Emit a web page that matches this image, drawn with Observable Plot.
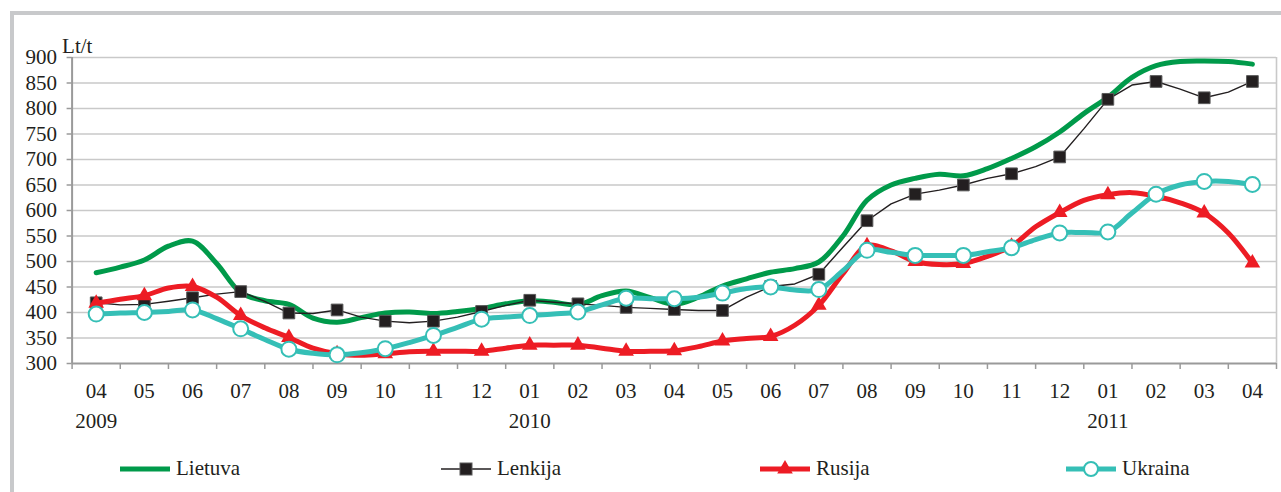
<!DOCTYPE html>
<html>
<head>
<meta charset="utf-8">
<script src="https://cdn.jsdelivr.net/npm/d3@7"></script>
<script src="https://cdn.jsdelivr.net/npm/@observablehq/plot@0.6"></script>
<style>
  html, body { margin: 0; padding: 0; background: #fff; }
  #page { position: relative; width: 1281px; height: 492px; overflow: hidden; background: #fff; font-family: "Liberation Serif", serif; }
  #frame { position: absolute; left: 10px; top: 11px; width: 1400px; height: 700px; border: 4px solid #c8c9cb; box-sizing: border-box; pointer-events: none; }
  #chart { position: absolute; left: 0; top: 0; }
  #chart svg text { font-family: "Liberation Serif", serif; font-variant: normal; }
  #legend { position: absolute; left: 0; top: 445px; width: 1281px; height: 47px; }
  .item { position: absolute; top: 0; height: 47px; display: flex; align-items: center; font-size: 21px; color: #231f20; }
  .item svg { margin-right: 6px; }
</style>
</head>
<body>
<div id="page">
  <div id="chart"></div>
  <div id="frame"></div>
  <div id="legend"></div>
</div>
<script>
// Month labels (April 2009 – April 2011)
const monthLabels = ["04","05","06","07","08","09","10","11","12","01","02","03","04","05","06","07","08","09","10","11","12","01","02","03","04"];
const yearLabels = [{i: 0, label: "2009"}, {i: 9, label: "2010"}, {i: 21, label: "2011"}];
const seriesNames = ["Lietuva", "Lenkija", "Rusija", "Ukraina"];

// Half-monthly readings, Lt/t (index k -> month position k/2)
const lietuva = [478,489,503,530,540,496,439,423,416,389,381,390,399,401,398,402,408,417,423,420,415,433,442,429,416,430,452,466,479,486,499,550,620,650,663,671,668,682,702,725,754,790,822,861,884,892,893,892,887];
const lenkija = [419,415,416,422,429,436,441,422,399,398,405,391,383,380,383,391,402,414,424,420,417,414,410,408,406,404,404,430,451,456,475,528,580,613,632,640,650,663,672,686,705,760,818,846,853,838,821,832,853];
const rusija  = [418,426,433,448,451,430,394,370,351,330,319,316,319,323,324,324,324,330,336,336,336,330,324,324,325,333,344,349,353,375,414,476,531,521,500,494,496,510,530,568,596,620,631,635,628,615,595,556,497];
const ukraina = [397,399,400,402,405,388,368,347,328,320,317,321,329,341,355,371,387,391,394,397,401,415,428,427,427,430,438,447,450,444,445,482,522,518,512,512,512,519,527,543,556,557,558,595,632,650,657,657,651];

const colors = {Lietuva: "#009a4a", Lenkija: "#231f20", Rusija: "#ed1c24", Ukraina: "#35bfb6"};

const toRows = (arr) => arr.map((v, k) => ({x: k / 2, v}));
const rows = {
  Lietuva: toRows(lietuva),
  Lenkija: toRows(lenkija),
  Rusija: toRows(rusija),
  Ukraina: toRows(ukraina)
};
const monthly = (name) => rows[name].filter((d, k) => k % 2 === 0);

const font = "Liberation Serif";
const chart = Plot.plot({
  width: 1281,
  height: 445,
  marginLeft: 71.6,
  marginRight: 5,
  marginTop: 57,
  marginBottom: 82,
  style: {fontFamily: "Liberation Serif, serif", fontSize: "21px", background: "transparent", color: "#231f20", overflow: "visible"},
  x: {domain: [-0.5, 24.5], axis: null},
  y: {domain: [300, 900], axis: null},
  marks: [
    Plot.gridY({ticks: d3.range(350, 901, 50), stroke: "#c9c9c9", strokeOpacity: 1, strokeWidth: 1.6}),
    Plot.ruleX([24.5], {stroke: "#c9c9c9", strokeWidth: 1.6}),
    Plot.axisY({ticks: d3.range(300, 901, 50), label: null, tickSize: 5, tickPadding: 10, stroke: "#9a9a9a", strokeWidth: 1.5, fontFamily: font, fontVariant: "normal", tickFormat: d => String(d)}),
    Plot.axisX({ticks: d3.range(-0.5, 25, 1), label: null, tickSize: 6, stroke: "#9a9a9a", strokeWidth: 1.5, tickFormat: () => ""}),
    Plot.axisX({ticks: d3.range(0, 25), label: null, tickSize: 0, tickPadding: 20, fontFamily: font, fontVariant: "normal", tickFormat: i => monthLabels[i]}),
    Plot.axisX({ticks: yearLabels.map(d => d.i), label: null, tickSize: 0, tickPadding: 50, fontFamily: font, fontVariant: "normal", tickFormat: i => yearLabels.find(d => d.i === i).label}),
    Plot.ruleX([-0.5], {stroke: "#9a9a9a", strokeWidth: 2}),
    Plot.ruleY([300], {stroke: "#9a9a9a", strokeWidth: 2}),
    Plot.text(["Lt/t"], {frameAnchor: "top-left", dx: -10, dy: -5, textAnchor: "start", lineAnchor: "bottom", fill: "#231f20", fontFamily: font}),
    // Lietuva
    Plot.line(rows.Lietuva, {x: "x", y: "v", stroke: colors.Lietuva, strokeWidth: 5, curve: "catmull-rom"}),
    // Lenkija
    Plot.line(rows.Lenkija, {x: "x", y: "v", stroke: colors.Lenkija, strokeWidth: 1.4, curve: "linear"}),
    Plot.dot(monthly("Lenkija"), {x: "x", y: "v", symbol: "square", r: 6.6, fill: "#231f20", stroke: "#5a5a5a", strokeWidth: 1}),
    // Rusija
    Plot.line(rows.Rusija, {x: "x", y: "v", stroke: colors.Rusija, strokeWidth: 5, curve: "catmull-rom"}),
    Plot.dot(monthly("Rusija"), {x: "x", y: "v", symbol: "triangle", r: 5.8, fill: colors.Rusija, stroke: "none"}),
    // Ukraina
    Plot.line(rows.Ukraina, {x: "x", y: "v", stroke: colors.Ukraina, strokeWidth: 5, curve: "catmull-rom"}),
    Plot.dot(monthly("Ukraina"), {x: "x", y: "v", symbol: "circle", r: 7.5, fill: "white", stroke: colors.Ukraina, strokeWidth: 2})
  ]
});
document.getElementById("chart").appendChild(chart);

// Legend
const legendPos = {Lietuva: 120, Lenkija: 441, Rusija: 760, Ukraina: 1066};
const legend = document.getElementById("legend");
for (const name of seriesNames) {
  const item = document.createElement("div");
  item.className = "item";
  item.style.left = legendPos[name] + "px";
  const sw = d3.create("svg").attr("width", 50).attr("height", 20);
  const thick = name === "Lenkija" ? 1.4 : 5;
  sw.append("line").attr("x1", 0).attr("x2", 50).attr("y1", 10).attr("y2", 10)
    .attr("stroke", colors[name]).attr("stroke-width", thick);
  if (name === "Lenkija") {
    sw.append("rect").attr("x", 19).attr("y", 4).attr("width", 12).attr("height", 12)
      .attr("fill", "#231f20").attr("stroke", "#5a5a5a");
  } else if (name === "Rusija") {
    sw.append("path").attr("d", d3.symbol(d3.symbolTriangle, Math.PI * 5.8 * 5.8)()).attr("transform", "translate(25,10)")
      .attr("fill", colors.Rusija);
  } else if (name === "Ukraina") {
    sw.append("circle").attr("cx", 25).attr("cy", 10).attr("r", 7)
      .attr("fill", "white").attr("stroke", colors.Ukraina).attr("stroke-width", 2);
  }
  item.appendChild(sw.node());
  const label = document.createElement("span");
  label.textContent = name;
  item.appendChild(label);
  legend.appendChild(item);
}
</script>
</body>
</html>
